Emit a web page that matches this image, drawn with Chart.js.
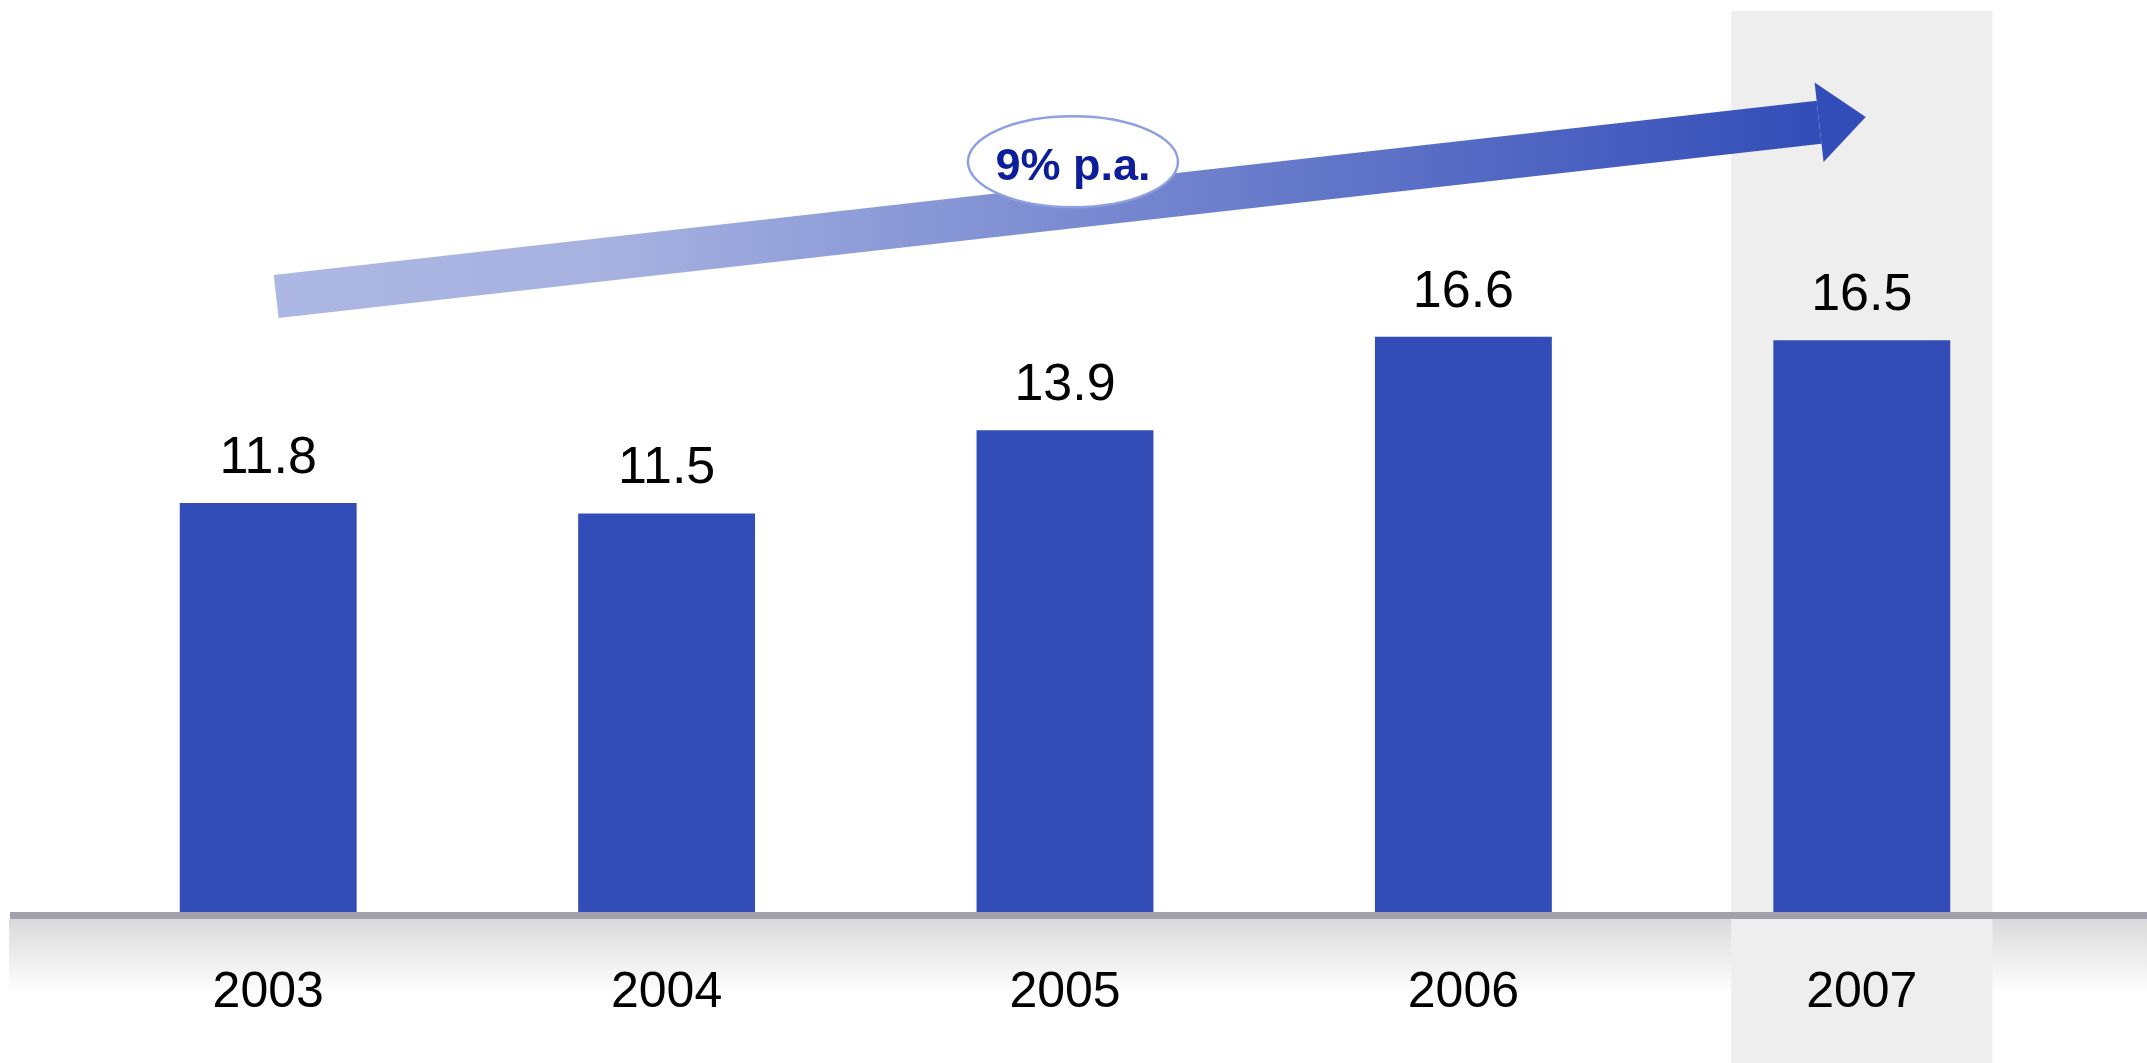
<!DOCTYPE html>
<html>
<head>
<meta charset="utf-8">
<script src="https://cdn.jsdelivr.net/npm/chart.js@4/dist/chart.umd.min.js"></script>
<style>
  html, body { margin: 0; padding: 0; background: #fff; }
  canvas { display: block; }
</style>
</head>
<body>
<canvas id="grafica" width="2147" height="1063"></canvas>
<script>
// ---- datos ----
const anios = ["2003", "2004", "2005", "2006", "2007"];
const valores = [11.8, 11.5, 13.9, 16.6, 16.5];
const etiquetas = ["11.8", "11.5", "13.9", "16.6", "16.5"];
const textoCrecimiento = "9% p.a.";
const anioDestacado = 4; // 2007 resaltado

// ---- colores ----
const AZUL = "rgb(51,77,184)";
const FUENTE = "'Liberation Sans', Arial, sans-serif";

// flecha de tendencia, en unidades de las escalas (indice de categoria, valor)
const flecha = { x0: 0.02, y0: 17.76, x1: 4.01, y1: 22.94, grosor: 21.6, largoPunta: 47, anchoPunta: 40 };
const globo = { x: 2.02, y: 21.65, rx: 105, ry: 45.5 };

// fondo: banda bajo el eje, columna resaltada, linea del eje
const fondoPlugin = {
    id: "fondo",
    beforeDraw(chart) {
        const { ctx, chartArea, scales } = chart;
        const x = scales.x;
        const base = chartArea.bottom;
        const paso = x.getPixelForValue(1) - x.getPixelForValue(0);

        ctx.save();
        // banda gris degradada
        const g = ctx.createLinearGradient(0, base + 7, 0, base + 82);
        g.addColorStop(0, "#dadada");
        g.addColorStop(1, "rgba(255,255,255,1)");
        ctx.fillStyle = g;
        ctx.fillRect(9, base + 7, chart.width - 9, 75);

        // columna 2007
        const cx = x.getPixelForValue(anioDestacado);
        const medio = paso * 0.328;
        ctx.fillStyle = "#eeeeee";
        ctx.fillRect(cx - medio, chartArea.top, medio * 2, chart.height - chartArea.top);

        // eje
        ctx.fillStyle = "#a2a1ab";
        ctx.fillRect(10, base, chart.width - 10, 7);
        ctx.restore();
    }
};

// etiquetas de valor + flecha + globo
const anotaciones = {
    id: "anotaciones",
    afterDatasetsDraw(chart) {
        const { ctx, scales } = chart;
        const meta = chart.getDatasetMeta(0);

        ctx.save();
        ctx.fillStyle = "#000";
        ctx.font = "52px " + FUENTE;
        ctx.textAlign = "center";
        ctx.textBaseline = "alphabetic";
        meta.data.forEach((bar, i) => {
            ctx.fillText(etiquetas[i], bar.x, bar.y - 30);
        });

        // flecha
        const p0 = { x: scales.x.getPixelForValue(flecha.x0), y: scales.y.getPixelForValue(flecha.y0) };
        const p1 = { x: scales.x.getPixelForValue(flecha.x1), y: scales.y.getPixelForValue(flecha.y1) };
        const dx = p1.x - p0.x, dy = p1.y - p0.y;
        const len = Math.hypot(dx, dy);
        const u = { x: dx / len, y: dy / len };
        const n = { x: u.y, y: -u.x }; // normal hacia arriba
        const b = { x: p1.x - u.x * flecha.largoPunta, y: p1.y - u.y * flecha.largoPunta };
        const hw = flecha.grosor, hh = flecha.anchoPunta;
        const pt = (o, k) => [o.x + n.x * k, o.y + n.y * k];

        const grad = ctx.createLinearGradient(p0.x, 0, b.x, 0);
        grad.addColorStop(0, "rgb(172,183,227)");
        grad.addColorStop(0.22, "rgb(166,177,224)");
        grad.addColorStop(1, AZUL);

        ctx.beginPath();
        ctx.moveTo(...pt(p0, hw));
        ctx.lineTo(...pt(b, hw));
        ctx.lineTo(...pt(b, -hw));
        ctx.lineTo(...pt(p0, -hw));
        ctx.closePath();
        ctx.fillStyle = grad;
        ctx.fill();

        ctx.beginPath();
        ctx.moveTo(...pt(b, hh));
        ctx.lineTo(p1.x, p1.y);
        ctx.lineTo(...pt(b, -hh));
        ctx.closePath();
        ctx.fillStyle = AZUL;
        ctx.fill();

        // globo con la tasa
        const gx = scales.x.getPixelForValue(globo.x);
        const gy = scales.y.getPixelForValue(globo.y);
        ctx.beginPath();
        ctx.ellipse(gx, gy, globo.rx, globo.ry, 0, 0, Math.PI * 2);
        ctx.fillStyle = "#fff";
        ctx.fill();
        ctx.lineWidth = 2.5;
        ctx.strokeStyle = "rgb(140,160,226)";
        ctx.stroke();

        ctx.fillStyle = "rgb(14,30,155)";
        ctx.font = "bold 45px " + FUENTE;
        ctx.fillText(textoCrecimiento, gx, gy + 18);
        ctx.restore();
    }
};

new Chart(document.getElementById("grafica"), {
    type: "bar",
    data: {
        labels: anios,
        datasets: [{
            data: valores,
            backgroundColor: AZUL,
            borderWidth: 0,
            categoryPercentage: 1,
            barPercentage: 0.444
        }]
    },
    options: {
        responsive: false,
        animation: false,
        layout: { padding: { left: 69, right: 86, top: 11, bottom: 0 } },
        plugins: {
            legend: { display: false },
            tooltip: { enabled: false }
        },
        scales: {
            y: { display: false, min: 0, max: 26 },
            x: {
                grid: { display: false, drawTicks: false },
                border: { display: false },
                ticks: {
                    color: "#000",
                    padding: 51,
                    font: { family: FUENTE, size: 50 }
                },
                afterFit(s) { s.height = 151; }
            }
        }
    },
    plugins: [fondoPlugin, anotaciones]
});
</script>
</body>
</html>
